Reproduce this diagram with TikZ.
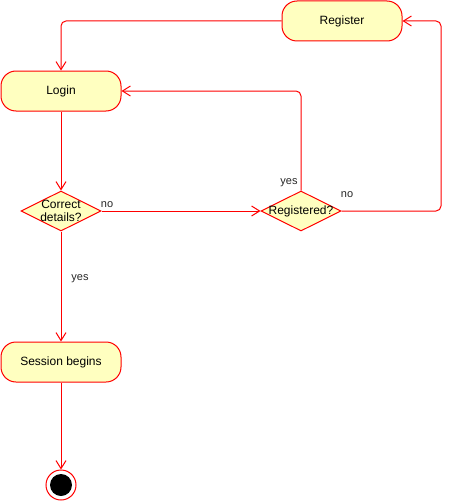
\documentclass[tikz,border=0pt]{standalone}
\usepackage{fontspec}
\setmainfont{Liberation Sans}
\usetikzlibrary{arrows.meta,shapes.geometric}
\definecolor{statefill}{HTML}{FFFFC0}
\definecolor{edgered}{HTML}{FF0000}
\tikzset{
  state/.style={draw=edgered, fill=statefill, line width=1pt, rounded corners=15pt,
    minimum width=120pt, minimum height=40pt, inner sep=0pt, font=\fontsize{12}{14}\selectfont},
  decision/.style={draw=edgered, fill=statefill, line width=1pt, diamond, aspect=2,
    minimum width=80pt, minimum height=40pt, inner sep=0pt},
  decisiontext/.style={align=center, inner sep=0pt, font=\fontsize{12}{13}\selectfont},
  flow/.style={draw=edgered, line width=1pt, rounded corners=5pt,
    -{Straight Barb[length=8pt,width=10pt]}},
  lbl/.style={font=\fontsize{11}{12}\selectfont, inner sep=0pt, text=black!85}
}
\begin{document}
\begin{tikzpicture}[x=1pt,y=-1pt]
  \useasboundingbox (0,0) rectangle (453,503);
  % activity states
  \node[state] (register) at (342,21) {Register};
  \node[state] (login) at (61,91) {Login};
  \node[decision] (correct) at (61,211) {};
  \node[decisiontext] (correcttext) at (correct.center) {Correct\\details?};
  \node[decision] (registered) at (301,211) {};
  \node[decisiontext] (registeredtext) at (registered.center) {Registered?};
  \node[state] (session) at (61,362) {Session begins};
  % final state
  \node[circle, draw=edgered, fill=white, line width=1pt, minimum size=30pt, inner sep=0pt] (final) at (61,485) {};
  \node[circle, fill=black, minimum size=22pt, inner sep=0pt] (finaldot) at (final.center) {};
  % transitions
  \draw[flow] (register.west) -| (login.north);
  \draw[flow] (login.south) -- (correct.north);
  \draw[flow] (correct.east) -- (registered.west);
  \draw[flow] (registered.north) |- (login.east);
  \draw[flow] (registered.east) -- (441,211) -- (441,21) -- (register.east);
  \draw[flow] (correct.south) -- (session.north);
  \draw[flow] (session.south) -- (final.north);
  % guards
  \node[lbl] (noA) at (107,205) {no};
  \node[lbl] (yesA) at (289,183) {yes};
  \node[lbl] (noB) at (347,195) {no};
  \node[lbl] (yesB) at (80,279) {yes};
\end{tikzpicture}
\end{document}
